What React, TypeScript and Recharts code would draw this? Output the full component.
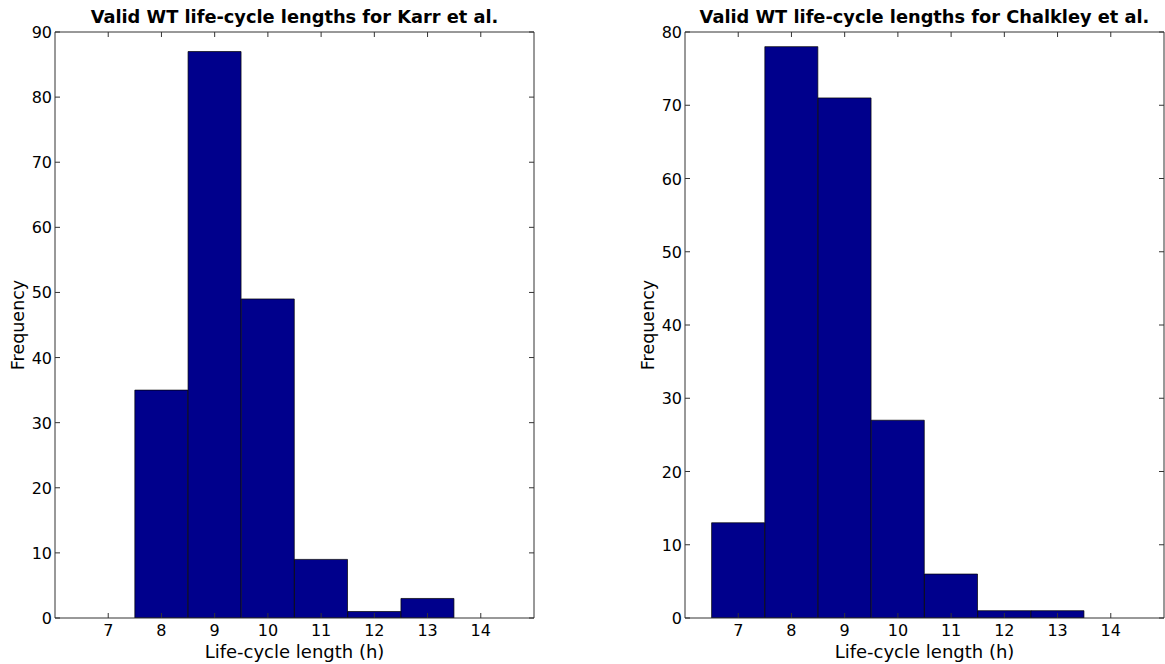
import React from 'react';
import { BarChart, Bar, XAxis, YAxis, Label } from 'recharts';

const bins = [7, 8, 9, 10, 11, 12, 13];
const karrCounts = [0, 35, 87, 49, 9, 1, 3];
const chalkleyCounts = [13, 78, 71, 27, 6, 1, 1];
const xTicks = [7, 8, 9, 10, 11, 12, 13, 14];
const karrYTicks = [0, 10, 20, 30, 40, 50, 60, 70, 80, 90];
const chalkleyYTicks = [0, 10, 20, 30, 40, 50, 60, 70, 80];
const karrTitle = 'Valid WT life-cycle lengths for Karr et al.';
const chalkleyTitle = 'Valid WT life-cycle lengths for Chalkley et al.';
const xLabel = 'Life-cycle length (h)';
const yLabel = 'Frequency';

const FONT = 'DejaVu Sans';
const SPINE = '#333';
const TICK_LEN = 5;

const BottomTick = (p: any) => (
  <g>
    <line x1={p.x} y1={p.y} x2={p.x} y2={p.y - TICK_LEN} stroke={SPINE} strokeWidth={1} />
    <text x={p.x} y={p.y + 18} textAnchor="middle" fontFamily={FONT} fontSize={16} fill="#000">
      {p.payload.value}
    </text>
  </g>
);
const TopTick = (p: any) => (
  <line x1={p.x} y1={p.y} x2={p.x} y2={p.y + TICK_LEN} stroke={SPINE} strokeWidth={1} />
);
const LeftTick = (p: any) => (
  <g>
    <line x1={p.x} y1={p.y} x2={p.x + TICK_LEN} y2={p.y} stroke={SPINE} strokeWidth={1} />
    <text x={p.x - 3} y={p.y + 6} textAnchor="end" fontFamily={FONT} fontSize={16} fill="#000">
      {p.payload.value}
    </text>
  </g>
);
const RightTick = (p: any) => (
  <line x1={p.x} y1={p.y} x2={p.x - TICK_LEN} y2={p.y} stroke={SPINE} strokeWidth={1} />
);

function Hist(props: { title: string; counts: number[]; yMax: number; yTicks: number[]; left: number; width: number; marginRight: number }) {
  const data = bins.map((b, i) => ({ bin: b, count: props.counts[i] }));
  return (
    <div style={{ position: 'absolute', left: props.left, top: 0, width: props.width, height: 664 }}>
      <BarChart
        width={props.width}
        height={664}
        data={data}
        margin={{ top: 31, right: props.marginRight, bottom: 0, left: 0 }}
        barCategoryGap={0}
        barGap={0}
      >
        <XAxis
          xAxisId="b"
          dataKey="bin"
          type="number"
          domain={[6, 15]}
          ticks={xTicks}
          interval={0}
          allowDataOverflow
          height={46}
          tickSize={0}
          tickMargin={0}
          tickLine={false}
          tick={BottomTick}
          axisLine={{ stroke: SPINE }}
        >
          <Label
            content={(lp: any) => {
              const vb = lp.viewBox;
              return (
                <text x={vb.x + vb.width / 2} y={vb.y + 40} textAnchor="middle" fontFamily={FONT} fontSize={18} fill="#000">
                  {xLabel}
                </text>
              );
            }}
          />
        </XAxis>
        <XAxis
          xAxisId="t"
          orientation="top"
          dataKey="bin"
          type="number"
          domain={[6, 15]}
          ticks={xTicks}
          interval={0}
          allowDataOverflow
          height={1}
          tickSize={0}
          tickMargin={0}
          tickLine={false}
          tick={TopTick}
          axisLine={{ stroke: SPINE }}
        >
          <Label
            content={(lp: any) => {
              const vb = lp.viewBox;
              return (
                <text x={vb.x + vb.width / 2} y={23} textAnchor="middle" fontFamily={FONT} fontWeight="bold" fontSize={17.8} fill="#000">
                  {props.title}
                </text>
              );
            }}
          />
        </XAxis>
        <YAxis
          yAxisId="l"
          domain={[0, props.yMax]}
          ticks={props.yTicks}
          interval={0}
          allowDataOverflow
          width={55}
          tickSize={0}
          tickMargin={0}
          tickLine={false}
          tick={LeftTick}
          axisLine={{ stroke: SPINE }}
        >
          <Label
            content={(lp: any) => {
              const vb = lp.viewBox;
              const cy = vb.y + vb.height / 2;
              return (
                <text x={24} y={cy} transform={`rotate(-90, 24, ${cy})`} textAnchor="middle" fontFamily={FONT} fontSize={17.5} fill="#000">
                  {yLabel}
                </text>
              );
            }}
          />
        </YAxis>
        <YAxis
          yAxisId="r"
          orientation="right"
          domain={[0, props.yMax]}
          ticks={props.yTicks}
          interval={0}
          allowDataOverflow
          width={1}
          tickSize={0}
          tickMargin={0}
          tickLine={false}
          tick={RightTick}
          axisLine={{ stroke: SPINE }}
        />
        <Bar
          xAxisId="b"
          yAxisId="l"
          dataKey="count"
          fill="#00008c"
          stroke="#000"
          strokeWidth={0.7}
          isAnimationActive={false}
        />
      </BarChart>
    </div>
  );
}

export default function App() {
  return (
    <div style={{ position: 'absolute', left: 0, top: 0, width: 1165, height: 664, overflow: 'hidden', background: '#fff' }}>
      <Hist title={karrTitle} counts={karrCounts} yMax={90} yTicks={karrYTicks} left={0} width={560} marginRight={25} />
      <Hist title={chalkleyTitle} counts={chalkleyCounts} yMax={80} yTicks={chalkleyYTicks} left={630} width={535} marginRight={0} />
    </div>
  );
}
